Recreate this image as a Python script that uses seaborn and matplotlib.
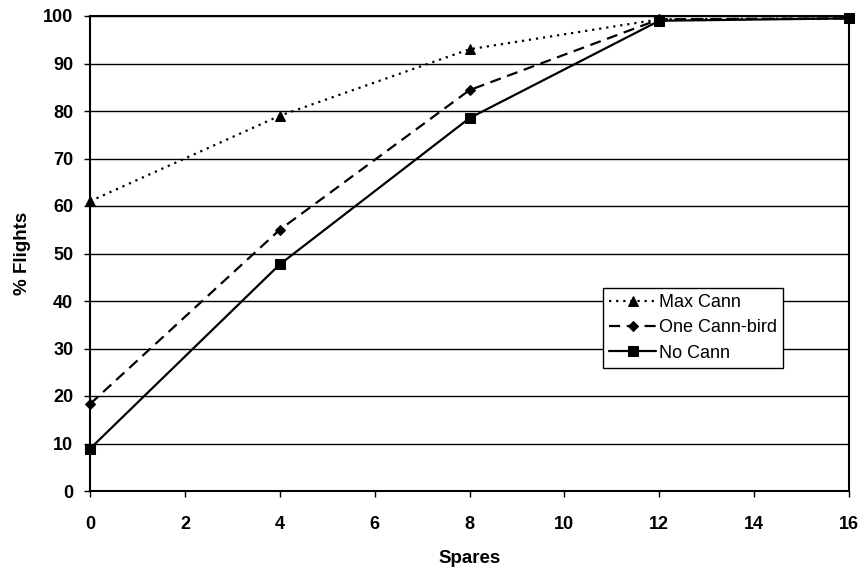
import matplotlib
matplotlib.use("Agg")
import matplotlib.pyplot as plt
import seaborn as sns
import pandas as pd

spares = [0, 4, 8, 12, 16]
max_cann = [61, 79, 93, 99.3, 99.5]
one_cann_bird = [18.3, 55, 84.4, 99.3, 99.5]
no_cann = [8.9, 47.7, 78.5, 99, 99.5]

series_names = ["Max Cann", "One Cann-bird", "No Cann"]
x_ticks = [0, 2, 4, 6, 8, 10, 12, 14, 16]
y_ticks = [0, 10, 20, 30, 40, 50, 60, 70, 80, 90, 100]

sns.set_theme(style="white")
plt.rcParams["font.family"] = ["Liberation Sans", "DejaVu Sans"]

fig = plt.figure(figsize=(8.63, 5.72), dpi=100)
ax = fig.add_axes([90 / 863, 1 - 491 / 572, (849 - 90) / 863, (491 - 16) / 572])

styles = [
    dict(linestyle=(0, (1, 2.2)), marker="^", markersize=7),
    dict(linestyle=(0, (5, 3)), marker="D", markersize=5),
    dict(linestyle="-", marker="s", markersize=6.5),
]

for name, vals, st in zip(series_names, [max_cann, one_cann_bird, no_cann], styles):
    df = pd.DataFrame({"Spares": spares, "pct": vals})
    sns.lineplot(data=df, x="Spares", y="pct", ax=ax, color="black", linewidth=1.6,
                 label=name, clip_on=False, zorder=3,
                 markeredgecolor="black", markerfacecolor="black", **st)

ax.set_xlim(0, 16)
ax.set_ylim(0, 100)
ax.set_xticks(x_ticks)
ax.set_yticks(y_ticks)
ax.set_xticklabels([str(t) for t in x_ticks], fontsize=13, fontweight="bold", color="black")
ax.set_yticklabels([str(t) for t in y_ticks], fontsize=13, fontweight="bold", color="black")
ax.set_xlabel("Spares", fontsize=13.5, fontweight="bold", labelpad=12, color="black")
ax.set_ylabel("% Flights", fontsize=13.5, fontweight="bold", labelpad=9, color="black")

ax.yaxis.grid(True, color="black", linewidth=1.0)
ax.xaxis.grid(False)
ax.set_axisbelow(True)
for sp in ax.spines.values():
    sp.set_color("black")
    sp.set_linewidth(1.5)
    sp.set_visible(True)

ax.tick_params(axis="x", direction="out", length=4, width=1, color="black",
               bottom=True, pad=14)
ax.tick_params(axis="y", direction="out", length=4, width=1, color="black",
               left=True, pad=8)

leg = ax.legend(loc="upper left", bbox_to_anchor=((603 - 90) / 759, (491 - 288) / 475),
                fontsize=13, frameon=True, fancybox=False, framealpha=1,
                edgecolor="black", handlelength=2.6, handletextpad=0.15,
                borderpad=0.35, labelspacing=0.45, borderaxespad=0)
leg.get_frame().set_linewidth(1.0)
for t in leg.get_texts():
    t.set_color("black")

fig.savefig("out.png", dpi=100, facecolor="white")
